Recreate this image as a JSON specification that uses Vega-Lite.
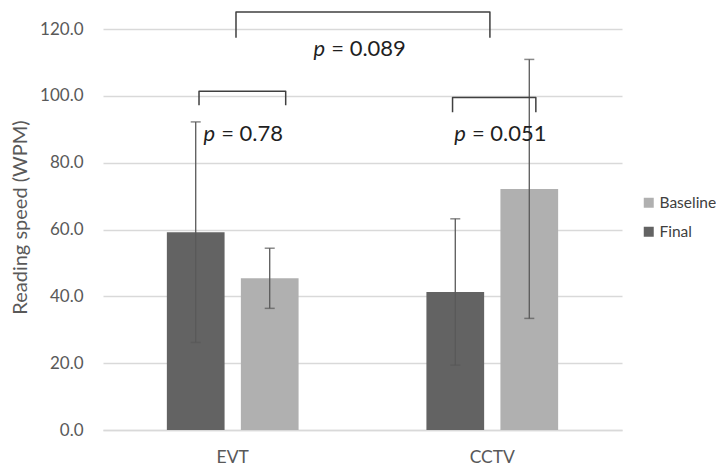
{
  "$schema": "https://vega.github.io/schema/vega-lite/v6.json",
  "width": 519,
  "height": 401,
  "autosize": {"type": "none"},
  "padding": {"left": 103, "top": 29, "right": 94, "bottom": 35},
  "background": "white",
  "config": {
    "font": "Lato",
    "view": {"stroke": null}
  },
  "datasets": {
    "bars": [
      {"group": "EVT", "series": "Final", "mean": 59.2, "lo": 26.2, "hi": 92.2},
      {"group": "EVT", "series": "Baseline", "mean": 45.4, "lo": 36.4, "hi": 54.4},
      {"group": "CCTV", "series": "Final", "mean": 41.3, "lo": 19.4, "hi": 63.2},
      {"group": "CCTV", "series": "Baseline", "mean": 72.1, "lo": 33.4, "hi": 110.9}
    ],
    "brackets": [
      {"id": "a", "ord": 1, "x": 0.370, "y": 97.2},
      {"id": "a", "ord": 2, "x": 0.370, "y": 101.4},
      {"id": "a", "ord": 3, "x": 0.704, "y": 101.4},
      {"id": "a", "ord": 4, "x": 0.704, "y": 97.2},
      {"id": "b", "ord": 1, "x": 1.347, "y": 95.1},
      {"id": "b", "ord": 2, "x": 1.347, "y": 99.5},
      {"id": "b", "ord": 3, "x": 1.668, "y": 99.5},
      {"id": "b", "ord": 4, "x": 1.668, "y": 95.1},
      {"id": "c", "ord": 1, "x": 0.5125, "y": 117.4},
      {"id": "c", "ord": 2, "x": 0.5125, "y": 125.1},
      {"id": "c", "ord": 3, "x": 1.491, "y": 125.1},
      {"id": "c", "ord": 4, "x": 1.491, "y": 117.4}
    ],
    "labels": [
      {"x": 0.444, "y": 86.5, "rest": "= 0.78"},
      {"x": 1.410, "y": 86.5, "rest": "= 0.051"},
      {"x": 0.868, "y": 111.9, "rest": "= 0.089"}
    ]
  },
  "layer": [
    {
      "data": {"name": "bars"},
      "encoding": {
        "x": {
          "field": "group", "type": "nominal", "sort": ["EVT", "CCTV"],
          "scale": {"paddingInner": 0.4925, "paddingOuter": 0.246},
          "axis": {
            "title": null, "labelAngle": 0, "labelFontSize": 17.5, "labelColor": "#595959",
            "labelPadding": 18, "ticks": false, "domainColor": "#d9d9d9", "domainWidth": 1.5
          }
        },
        "xOffset": {
          "field": "series", "type": "nominal", "sort": ["Final", "Baseline"],
          "scale": {"paddingInner": 0.22, "paddingOuter": 0}
        }
      },
      "layer": [
        {
          "mark": {"type": "bar"},
          "encoding": {
            "y": {
              "field": "mean", "type": "quantitative",
              "scale": {"domain": [0, 120], "nice": false},
              "axis": {
                "title": "Reading speed (WPM)", "titleFontSize": 20, "titleFontWeight": "normal",
                "titleColor": "#595959", "titleX": -83, "titleY": 188, "titleAlign": "center",
                "titleBaseline": "middle", "titleAngle": -90,
                "values": [0, 20, 40, 60, 80, 100, 120], "format": ".1f",
                "labelFontSize": 17, "labelColor": "#595959", "labelPadding": 20,
                "ticks": false, "domain": false, "gridColor": "#d9d9d9", "gridWidth": 1.5
              }
            },
            "color": {
              "field": "series", "type": "nominal",
              "scale": {"domain": ["Baseline", "Final"], "range": ["#b0b0b0", "#636363"]},
              "legend": {
                "title": null, "orient": "none", "legendX": 538, "legendY": 166,
                "symbolType": "square", "symbolSize": 100, "symbolStrokeWidth": 0,
                "labelFontSize": 15.5, "labelColor": "#404040", "rowPadding": 12, "labelOffset": 3
              }
            }
          }
        },
        {
          "mark": {"type": "rule", "color": "#595959", "strokeWidth": 1.3},
          "encoding": {
            "y": {"field": "lo", "type": "quantitative"},
            "y2": {"field": "hi"}
          }
        },
        {
          "mark": {"type": "tick", "orient": "horizontal", "size": 10, "thickness": 1.5, "color": "#595959"},
          "encoding": {"y": {"field": "lo", "type": "quantitative"}}
        },
        {
          "mark": {"type": "tick", "orient": "horizontal", "size": 10, "thickness": 1.5, "color": "#595959"},
          "encoding": {"y": {"field": "hi", "type": "quantitative"}}
        }
      ]
    },
    {
      "data": {"name": "brackets"},
      "mark": {"type": "line", "color": "#404040", "strokeWidth": 1.5, "strokeJoin": "round"},
      "encoding": {
        "x": {"field": "x", "type": "quantitative", "scale": {"domain": [0, 2], "nice": false, "zero": false}, "axis": null},
        "y": {"field": "y", "type": "quantitative"},
        "detail": {"field": "id"},
        "order": {"field": "ord"}
      }
    },
    {
      "data": {"name": "labels"},
      "mark": {"type": "text", "text": "p", "fontStyle": "italic", "align": "right", "baseline": "alphabetic", "dx": -3, "fontSize": 22, "color": "#1f1f1f"},
      "encoding": {
        "x": {"field": "x", "type": "quantitative", "scale": {"domain": [0, 2], "nice": false, "zero": false}, "axis": null},
        "y": {"field": "y", "type": "quantitative"}
      }
    },
    {
      "data": {"name": "labels"},
      "mark": {"type": "text", "align": "left", "baseline": "alphabetic", "dx": 3, "fontSize": 22, "color": "#1f1f1f"},
      "encoding": {
        "x": {"field": "x", "type": "quantitative", "scale": {"domain": [0, 2], "nice": false, "zero": false}, "axis": null},
        "y": {"field": "y", "type": "quantitative"},
        "text": {"field": "rest"}
      }
    }
  ],
  "resolve": {"scale": {"x": "independent"}}
}
